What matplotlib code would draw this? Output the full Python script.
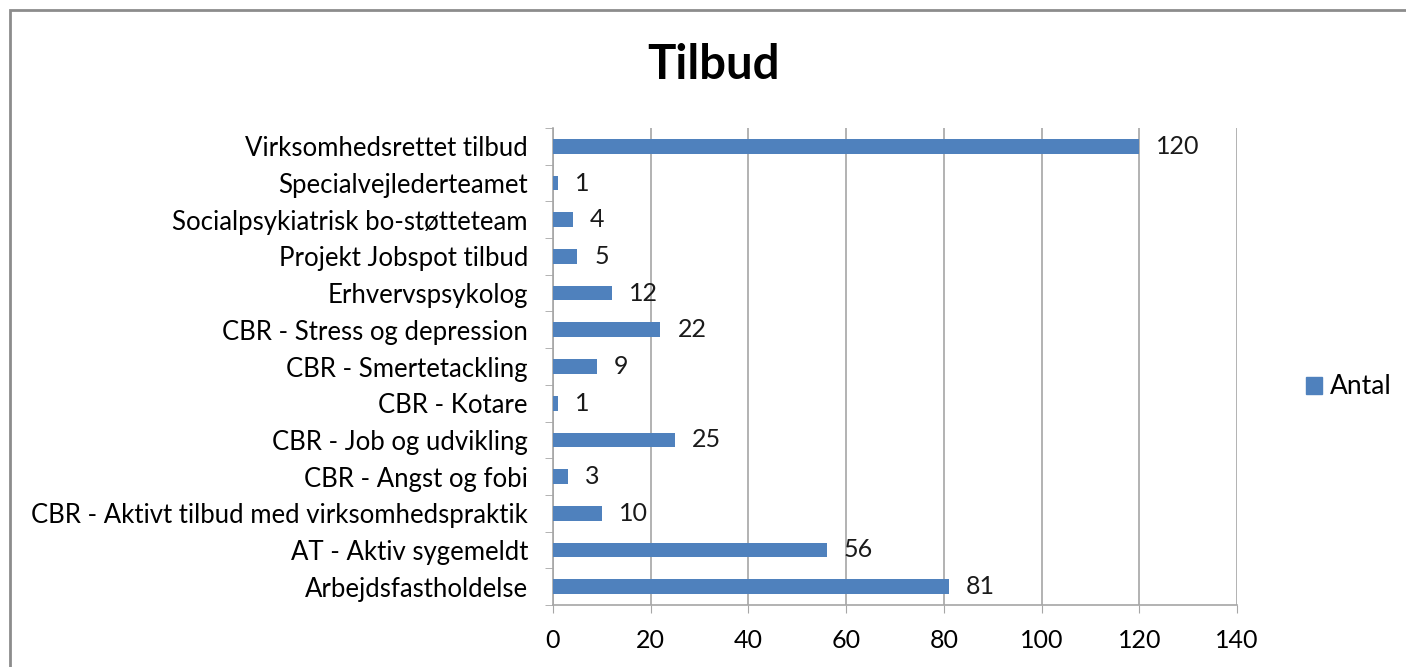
import matplotlib.pyplot as plt
import matplotlib.patches as mpatches
import numpy as np

# data, bottom to top as in the chart
categories = [
    "Arbejdsfastholdelse",
    "AT - Aktiv sygemeldt",
    "CBR - Aktivt tilbud med virksomhedspraktik",
    "CBR - Angst og fobi",
    "CBR - Job og udvikling",
    "CBR - Kotare",
    "CBR - Smertetackling",
    "CBR - Stress og depression",
    "Erhvervspsykolog",
    "Projekt Jobspot tilbud",
    "Socialpsykiatrisk bo-støtteteam",
    "Specialvejlederteamet",
    "Virksomhedsrettet tilbud",
]
antal = [81, 56, 10, 3, 25, 1, 9, 22, 12, 5, 4, 1, 120]
xticks = [0, 20, 40, 60, 80, 100, 120, 140]

bar_color = "#4F81BD"
grid_color = "#A6A6A6"
plt.rcParams['font.family'] = ['Lato', 'DejaVu Sans']

fig = plt.figure(figsize=(14.06, 6.67), dpi=100)
ax = fig.add_axes([553 / 1406, 1 - 605 / 667, 684 / 1406, 477 / 667])

y = np.arange(len(categories))
ax.barh(y, antal, height=0.4, color=bar_color, zorder=3)
for yi, v in zip(y, antal):
    ax.text(v + 3.5, yi, str(v), va="center", ha="left", fontsize=18, color="#1a1a1a")

ax.set_xlim(0, 140)
ax.set_ylim(-0.5, len(categories) - 0.5)
ax.set_xticks(xticks)
ax.set_xticklabels([str(t) for t in xticks], fontsize=18)
ax.set_yticks(y)
ax.set_yticklabels(categories, fontsize=18.5)
ax.tick_params(axis="y", length=0, pad=18)
ax.set_yticks(np.arange(-0.5, len(categories), 1), minor=True)
ax.tick_params(axis="y", which="minor", length=6, color=grid_color, direction="out")
ax.tick_params(axis="x", length=6, color=grid_color, direction="out", pad=11)

ax.grid(axis="x", color=grid_color, linewidth=1.2, zorder=0)
for s in ["top", "right"]:
    ax.spines[s].set_visible(False)
for s in ["left", "bottom"]:
    ax.spines[s].set_color(grid_color)
    ax.spines[s].set_linewidth(1.2)

fig.text(713 / 1406, 1 - 65 / 667, "Tilbud", ha="center", va="center",
         fontsize=34, fontweight="bold")

handle = mpatches.Patch(color=bar_color, label="Antal")
fig.legend(handles=[handle], loc="center left", bbox_to_anchor=(1282 / 1406, 1 - 387 / 667),
           frameon=False, fontsize=19, handlelength=0.6, handleheight=0.6,
           handletextpad=0.3)

# outer chart frame
frame = mpatches.Rectangle((10 / 1406, -0.05), 1.2, 1 - 10 / 667 + 0.05,
                           transform=fig.transFigure, fill=False,
                           edgecolor="#8c8c8c", linewidth=2)
fig.patches.append(frame)

fig.savefig("out.png", dpi=100)
